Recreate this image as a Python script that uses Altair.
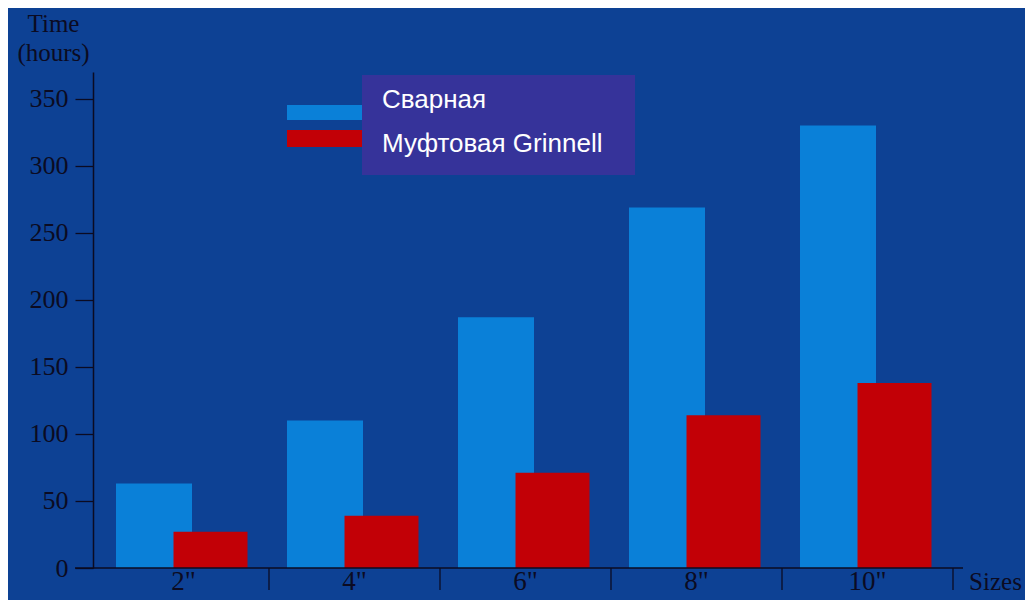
import altair as alt
import pandas as pd

# ---- data ----
sizes = ['2"', '4"', '6"', '8"', '10"']
welded = [63, 110, 187, 269, 330]          # Сварная
grooved = [27, 39, 71, 114, 138]           # Муфтовая Grinnell
series = ["Сварная", "Муфтовая Grinnell"]
colors = ["#0a80d8", "#c20006"]
y_ticks = [0, 50, 100, 150, 200, 250, 300, 350]

BG = "#0d4194"
INK = "#0b0b22"
SERIF = "Liberation Serif"

df = pd.DataFrame({
    "size": sizes * 2,
    "series": [series[0]] * len(sizes) + [series[1]] * len(sizes),
    "hours": welded + grooved,
})
tick_df = pd.DataFrame({"size": sizes})
legend_df = pd.DataFrame({"series": series})

x_axis = alt.Axis(
    title="Sizes", titleAngle=0, titleX=902, titleY=21, titleAlign="center",
    titleBaseline="alphabetic", titleFont=SERIF, titleFontSize=25,
    titleFontWeight="normal", titleColor=INK,
    labelAngle=0, labelFont=SERIF, labelFontSize=27, labelColor=INK,
    labelBaseline="alphabetic", labelPadding=21,
    ticks=False, tickSize=0, domain=False, grid=False,
)
x_scale = alt.Scale(domain=sizes, range=[5, 860], paddingInner=0, paddingOuter=0)
x_enc = alt.X("size:N", sort=sizes, scale=x_scale, axis=x_axis)

y_enc = alt.Y(
    "hours:Q",
    scale=alt.Scale(domain=[0, 370], nice=False),
    axis=alt.Axis(
        values=y_ticks, title=["Time", "(hours)"], titleAngle=0, titleX=-40,
        titleY=-41, titleAlign="center", titleBaseline="alphabetic",
        titleLineHeight=29, titleFont=SERIF, titleFontSize=25,
        titleFontWeight="normal", titleColor=INK,
        labelFont=SERIF, labelFontSize=26, labelColor=INK, labelPadding=7,
        tickSize=18, tickColor=INK, tickWidth=1.3,
        domainColor=INK, domainWidth=1.5, grid=False,
    ),
)
color_enc = alt.Color("series:N", scale=alt.Scale(domain=series, range=colors), legend=None)

blue = alt.Chart(df).transform_filter(alt.datum.series == series[0]).mark_bar(
    width=76, xOffset=-29.5
).encode(x=x_enc, y=y_enc, color=color_enc)

red = alt.Chart(df).transform_filter(alt.datum.series == series[1]).mark_bar(
    width=74, xOffset=27
).encode(x=x_enc, y=y_enc, color=color_enc)

ticks = alt.Chart(tick_df).mark_rule(color=INK, strokeWidth=1.3).encode(
    x=alt.X("size:N", sort=sizes, scale=x_scale, axis=x_axis, bandPosition=1),
    y=alt.value(496), y2=alt.value(518),
)

x_line = alt.Chart(tick_df).transform_filter(alt.datum.size == sizes[0]).mark_rule(
    color=INK, strokeWidth=1.5
).encode(x=alt.value(-18), x2=alt.value(870), y=alt.value(496))

sw1 = alt.Chart(legend_df).transform_filter(alt.datum.series == series[0]).mark_rect().encode(
    x=alt.value(194), x2=alt.value(275), y=alt.value(33), y2=alt.value(48), color=color_enc)
sw2 = alt.Chart(legend_df).transform_filter(alt.datum.series == series[1]).mark_rect().encode(
    x=alt.value(194), x2=alt.value(275), y=alt.value(58), y2=alt.value(75), color=color_enc)
box = alt.Chart(legend_df).transform_filter(alt.datum.series == series[0]).mark_rect(
    color="#36339a").encode(x=alt.value(269), x2=alt.value(542), y=alt.value(3), y2=alt.value(103))
txt1 = alt.Chart(legend_df).transform_filter(alt.datum.series == series[0]).mark_text(
    align="left", baseline="alphabetic", font="Liberation Sans", fontSize=26, color="white"
).encode(x=alt.value(289), y=alt.value(36), text="series:N")
txt2 = alt.Chart(legend_df).transform_filter(alt.datum.series == series[1]).mark_text(
    align="left", baseline="alphabetic", font="Liberation Sans", fontSize=26, color="white"
).encode(x=alt.value(289), y=alt.value(80), text="series:N")

chart = alt.layer(blue, red, ticks, x_line, sw1, sw2, box, txt1, txt2).properties(
    width=870, height=496,
    padding={"left": 85, "top": 64, "right": 62, "bottom": 32},
    autosize=alt.AutoSizeParams(type="none"),
    background=BG,
).configure_view(stroke=None)

chart.save("out.html", embed_options={"renderer": "svg", "actions": False})
